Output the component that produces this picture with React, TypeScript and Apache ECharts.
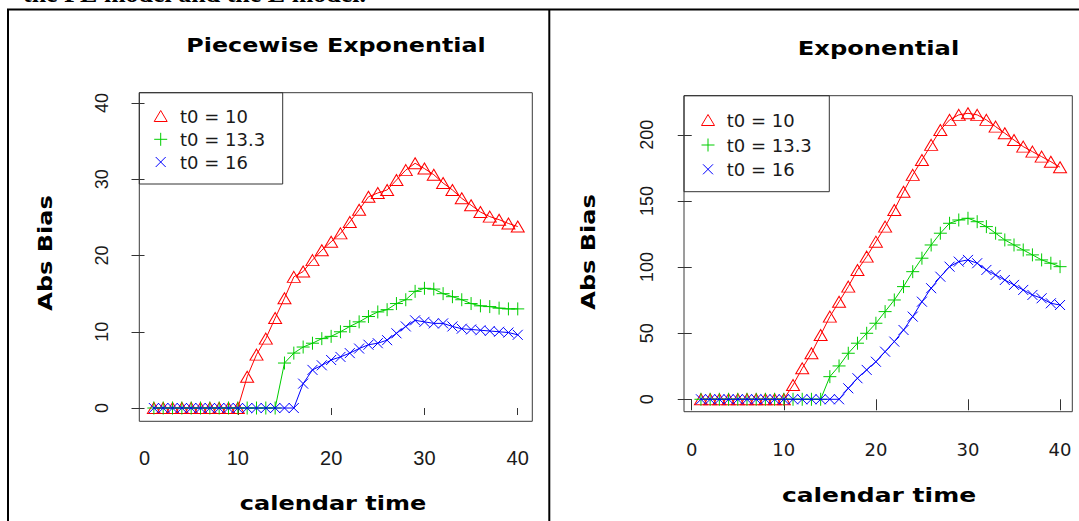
import React, { useEffect, useRef } from 'react';
import * as echarts from 'echarts';

// calendar time points
const time = [1, 2, 3, 4, 5, 6, 7, 8, 9, 10, 11, 12, 13, 14, 15, 16, 17, 18, 19, 20,
  21, 22, 23, 24, 25, 26, 27, 28, 29, 30, 31, 32, 33, 34, 35, 36, 37, 38, 39, 40];

const seriesNames = ['t0 = 10', 't0 = 13.3', 't0 = 16'];

// Piecewise Exponential: Abs Bias
const peT10 = [0, 0, 0, 0, 0, 0, 0, 0, 0, 0,
  4.1, 7.0, 9.1, 11.8, 14.4, 17.2, 17.9, 19.4, 20.7, 21.8,
  22.9, 24.4, 26.0, 27.7, 28.2, 28.6, 29.9, 31.2, 32.1, 31.4,
  30.6, 29.5, 28.6, 27.5, 26.6, 25.7, 25.1, 24.7, 24.2, 23.8];
const peT133 = [0, 0, 0, 0, 0, 0, 0, 0, 0, 0, 0, 0, 0, 0,
  5.9, 7.2, 8.0, 8.5, 9.1, 9.4, 10.0, 10.7, 11.3, 12.0,
  12.6, 12.9, 13.7, 14.2, 15.3, 15.7, 15.6, 15.0, 14.6, 14.2,
  13.7, 13.4, 13.3, 13.1, 13.0, 13.0];
const peT16 = [0, 0, 0, 0, 0, 0, 0, 0, 0, 0, 0, 0, 0, 0, 0, 0,
  3.2, 5.0, 5.6, 6.3, 6.7, 7.2, 7.8, 8.3, 8.5, 8.9,
  9.8, 10.7, 11.5, 11.3, 11.1, 11.1, 10.7, 10.4, 10.3, 10.2,
  10.1, 10.0, 9.9, 9.6];

// Exponential: Abs Bias
const eT10 = [0, 0, 0, 0, 0, 0, 0, 0, 0, 0,
  10.8, 23.4, 34.8, 48.6, 62.5, 73.8, 85.2, 97.8, 107.9, 119.2,
  130.6, 143.2, 157.0, 169.7, 181.0, 192.4, 203.7, 211.3, 215.1, 216.3,
  215.1, 211.3, 206.2, 201.2, 196.1, 191.1, 187.3, 183.5, 179.7, 175.5];
const eT133 = [0, 0, 0, 0, 0, 0, 0, 0, 0, 0, 0, 0, 0, 0,
  17.1, 25.2, 34.8, 42.4, 49.9, 57.5, 66.3, 75.1, 85.2, 96.5,
  106.7, 116.7, 125.6, 133.1, 135.6, 136.9, 134.3, 130.6, 125.6, 120.5,
  116.7, 112.9, 109.2, 105.4, 102.9, 100.3];
const eT16 = [0, 0, 0, 0, 0, 0, 0, 0, 0, 0, 0, 0, 0, 0, 0, 0,
  8.3, 15.9, 22.2, 28.4, 36.0, 43.6, 52.4, 62.5, 73.8, 84.0,
  92.7, 100.3, 104.1, 105.4, 102.9, 97.8, 94.0, 90.2, 86.5, 82.7,
  78.9, 76.4, 72.6, 71.3];

// tick values
const peYTicks = [0, 10, 20, 30, 40];
const eYTicks = [0, 50, 100, 150, 200];
const xTickLabels = [0, 10, 20, 30, 40];
const peXTickMarks = [10, 20, 30, 40];

const COLORS = ['#FF0000', '#00CD00', '#0000FF'];
const SYMBOLS = [
  'path://M5,0L10,8.66L0,8.66Z',
  'path://M5,0L5,10M0,5L10,5',
  'path://M0,0L10,10M10,0L0,10',
];
const SYMBOL_SIZES: any[] = [[13, 11], 13, 10];

const INK = '#1a1a1a';

function mkSeries(vals: number[], k: number, gi: number) {
  return {
    type: 'line',
    name: seriesNames[k],
    xAxisIndex: gi,
    yAxisIndex: gi,
    data: time.map((t, i) => [t, vals[i]]),
    symbol: SYMBOLS[k],
    symbolSize: SYMBOL_SIZES[k],
    showAllSymbol: true,
    clip: false,
    silent: true,
    z: 2 + k,
    lineStyle: { color: COLORS[k], width: 1 },
    itemStyle: { color: 'none', borderColor: COLORS[k], borderWidth: 1 },
    emphasis: { disabled: true },
  };
}

function boldText(text: string, x: number, y: number, scale: number, rotate = false) {
  return {
    type: 'text',
    x,
    y,
    rotation: rotate ? Math.PI / 2 : 0,
    scaleX: scale,
    silent: true,
    style: {
      text,
      fontFamily: '"DejaVu Sans"',
      fontWeight: 'bold',
      fontSize: 20,
      fill: '#000',
      align: 'center',
      verticalAlign: 'middle',
      textAlign: 'center',
      textVerticalAlign: 'middle',
    },
  };
}

function legendGraphic(bx: number, by: number, bw: number, bh: number, mx: number, tx: number, rows: number[]) {
  const els: any[] = [
    {
      type: 'rect',
      shape: { x: bx, y: by, width: bw, height: bh },
      style: { fill: 'none', stroke: '#333', lineWidth: 1 },
      silent: true,
    },
  ];
  // triangle
  els.push({
    type: 'polygon',
    shape: { points: [[mx, rows[0] - 5.5], [mx + 6.5, rows[0] + 5.5], [mx - 6.5, rows[0] + 5.5]] },
    style: { fill: 'none', stroke: COLORS[0], lineWidth: 1 },
    silent: true,
  });
  // plus
  els.push({ type: 'line', shape: { x1: mx - 6.5, y1: rows[1], x2: mx + 6.5, y2: rows[1] }, style: { stroke: COLORS[1], lineWidth: 1 }, silent: true });
  els.push({ type: 'line', shape: { x1: mx, y1: rows[1] - 6.5, x2: mx, y2: rows[1] + 6.5 }, style: { stroke: COLORS[1], lineWidth: 1 }, silent: true });
  // cross
  els.push({ type: 'line', shape: { x1: mx - 5, y1: rows[2] - 5, x2: mx + 5, y2: rows[2] + 5 }, style: { stroke: COLORS[2], lineWidth: 1 }, silent: true });
  els.push({ type: 'line', shape: { x1: mx + 5, y1: rows[2] - 5, x2: mx - 5, y2: rows[2] + 5 }, style: { stroke: COLORS[2], lineWidth: 1 }, silent: true });
  seriesNames.forEach((n, i) => {
    els.push({
      type: 'text',
      x: tx,
      y: rows[i],
      silent: true,
      style: {
        text: n,
        fontFamily: '"DejaVu Sans"',
        fontSize: 18,
        fill: INK,
        align: 'left',
        verticalAlign: 'middle',
        textAlign: 'left',
        textVerticalAlign: 'middle',
      },
    });
  });
  return els;
}

export default function App() {
  const ref = useRef<HTMLDivElement>(null);
  useEffect(() => {
    if (!ref.current) return;
    const chart = echarts.init(ref.current, undefined, { renderer: 'svg' });
    const tickStyle = { color: '#333', width: 1 };
    const option: any = {
      animation: false,
      backgroundColor: '#fff',
      grid: [
        { left: 139.3, top: 92.7, width: 393, height: 328.6, show: true, borderColor: '#3a3a3a', borderWidth: 1, containLabel: false },
        { left: 684, top: 95.7, width: 388.3, height: 316, show: true, borderColor: '#3a3a3a', borderWidth: 1, containLabel: false },
      ],
      xAxis: [
        {
          type: 'value', gridIndex: 0, min: -0.56, max: 41.56, position: 'bottom', offset: 5,
          splitLine: { show: false },
          axisLine: { show: false },
          axisTick: { show: true, length: 7, lineStyle: tickStyle, customValues: peXTickMarks },
          axisLabel: { customValues: xTickLabels, margin: 22, fontFamily: '"Liberation Sans"', fontSize: 20, color: INK },
        },
        {
          type: 'value', gridIndex: 1, min: -0.84, max: 41.33, position: 'bottom',
          splitLine: { show: false },
          axisLine: { show: false },
          axisTick: { show: true, length: 11, lineStyle: tickStyle, customValues: xTickLabels },
          axisLabel: { customValues: xTickLabels, margin: 29, fontFamily: '"DejaVu Sans"', fontSize: 18, color: INK },
        },
      ],
      yAxis: [
        {
          type: 'value', gridIndex: 0, min: -1.74, max: 41.35, position: 'left',
          splitLine: { show: false },
          axisLine: { show: false },
          axisTick: { show: true, length: 13, lineStyle: tickStyle, customValues: peYTicks },
          axisLabel: { customValues: peYTicks, rotate: 90, margin: 28, fontFamily: '"Liberation Sans"', fontSize: 18, color: INK },
        },
        {
          type: 'value', gridIndex: 1, min: -9.4, max: 229.6, position: 'left',
          splitLine: { show: false },
          axisLine: { show: false },
          axisTick: { show: true, length: 14, lineStyle: tickStyle, customValues: eYTicks },
          axisLabel: { customValues: eYTicks, rotate: 90, margin: 28, fontFamily: '"Liberation Sans"', fontSize: 18, color: INK },
        },
      ],
      series: [
        mkSeries(peT10, 0, 0),
        mkSeries(peT133, 1, 0),
        mkSeries(peT16, 2, 0),
        mkSeries(eT10, 0, 1),
        mkSeries(eT133, 1, 1),
        mkSeries(eT16, 2, 1),
      ],
      graphic: {
        elements: [
          // table borders
          { type: 'line', shape: { x1: 7, y1: 9.5, x2: 1079, y2: 9.5 }, style: { stroke: '#000', lineWidth: 2 }, silent: true },
          { type: 'line', shape: { x1: 8, y1: 9, x2: 8, y2: 521 }, style: { stroke: '#000', lineWidth: 2 }, silent: true },
          { type: 'line', shape: { x1: 549.3, y1: 9, x2: 549.3, y2: 521 }, style: { stroke: '#000', lineWidth: 2 }, silent: true },
          // caption above (cut off by the top edge, as in the reference)
          {
            type: 'text', x: 23, y: 6, silent: true,
            style: {
              text: 'the PE model and the E model.', fontFamily: '"Liberation Serif"', fontWeight: 'bold',
              fontSize: 26, fill: '#000', align: 'left', verticalAlign: 'bottom', textAlign: 'left', textVerticalAlign: 'bottom',
            },
          },
          boldText('Piecewise Exponential', 336, 45.5, 1.19),
          boldText('Exponential', 878.5, 48, 1.21),
          boldText('Abs Bias', 45, 253, 1.2, true),
          boldText('Abs Bias', 588, 252, 1.2, true),
          boldText('calendar time', 333, 503, 1.2),
          boldText('calendar time', 879, 495, 1.25),
          ...legendGraphic(139.3, 92.7, 143.4, 91.3, 160.7, 180, [116, 139.3, 162]),
          ...legendGraphic(684, 95.7, 145.3, 96, 708, 726.7, [120, 145, 169.3]),
        ],
      },
    };
    chart.setOption(option);
    return () => chart.dispose();
  }, []);
  return (
    <div
      ref={ref}
      style={{ position: 'absolute', left: 0, top: 0, width: 1079, height: 521, background: '#fff' }}
    />
  );
}
